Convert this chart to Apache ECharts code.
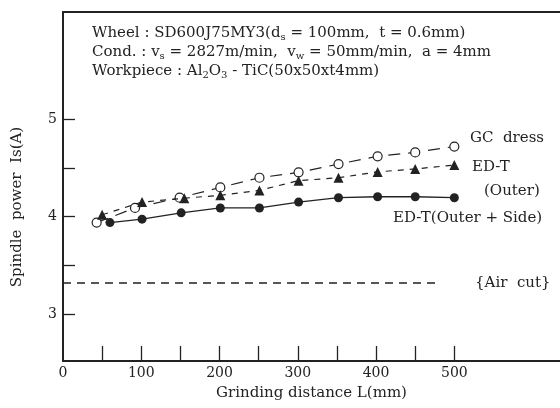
<!DOCTYPE html>
<html>
<head>
<meta charset="utf-8">
<script src="https://cdn.jsdelivr.net/npm/echarts@6/dist/echarts.min.js"></script>
<style>
  html, body { margin: 0; padding: 0; background: #fff; }
  #main { width: 560px; height: 408px; }
</style>
</head>
<body>
<div id="main"></div>
<script>
// grinding distance (mm) and spindle power (A)
var distGC = [43, 92, 149, 201, 251, 301, 352, 402, 450, 500];
var gcDress = [3.94, 4.09, 4.195, 4.30, 4.40, 4.455, 4.54, 4.62, 4.66, 4.72];

var distOuter = [50, 101, 155, 201, 251, 301, 352, 402, 450, 500];
var edtOuter = [4.02, 4.15, 4.19, 4.22, 4.27, 4.37, 4.40, 4.46, 4.49, 4.53];

var distSide = [60, 101, 151, 201, 251, 301, 352, 402, 450, 500];
var edtSide = [3.94, 3.975, 4.04, 4.09, 4.09, 4.15, 4.195, 4.205, 4.205, 4.195];

var distAir = [0, 478];
var airCut = [3.32, 3.32];

var xLabels = [0, 100, 200, 300, 400, 500];
var xTicks = [50, 100, 150, 200, 250, 300, 350, 400, 450, 500];
var yLabels = [3, 4, 5];
var yTicks = [3, 3.5, 4, 4.5, 5];

function pairs(xs, ys) {
  return xs.map(function (x, i) { return [x, ys[i]]; });
}

var FONT = "DejaVu Serif";
var INK = "#222";

var chartDom = document.getElementById("main");
var myChart = echarts.init(chartDom);

// annotation text, anchored at its left-middle point
function txt(x, y, text, size) {
  return {
    type: "text", x: x, y: y, z: 10,
    style: { text: text, fill: INK, font: (size || 15) + "px '" + FONT + "'", verticalAlign: "middle" }
  };
}

var subRich = {
  sub: { fontSize: 10, fontFamily: FONT, fill: INK, padding: [7, 0, 0, 0] }
};

var option = {
  animation: false,
  grid: { left: 63, right: 0, top: 12, bottom: 47 },
  xAxis: [
    {
      type: "value",
      min: 0,
      max: 635,
      splitLine: { show: false },
      axisLine: { lineStyle: { color: INK, width: 2 } },
      axisTick: { inside: true, length: 15, customValues: xTicks, lineStyle: { color: INK, width: 1.3 } },
      axisLabel: { customValues: xLabels, color: INK, fontFamily: FONT, fontSize: 14, margin: 5 },
      name: "Grinding distance L(mm)",
      nameLocation: "middle",
      nameGap: 25,
      nameTextStyle: { color: INK, fontFamily: FONT, fontSize: 15 }
    },
    {
      type: "value",
      position: "top",
      min: 0,
      max: 635,
      splitLine: { show: false },
      axisLine: { show: true, lineStyle: { color: INK, width: 2 } },
      axisTick: { show: false },
      axisLabel: { show: false }
    }
  ],
  yAxis: {
    type: "value",
    min: 2.52,
    max: 6.1,
    splitLine: { show: false },
    axisLine: { show: true, lineStyle: { color: INK, width: 2 } },
    axisTick: { inside: true, length: 12, customValues: yTicks, lineStyle: { color: INK, width: 1.3 } },
    axisLabel: { customValues: yLabels, color: INK, fontFamily: FONT, fontSize: 14, margin: 6 }
  },
  graphic: [
    {
      type: "text",
      x: 92,
      y: 24,
      z: 10,
      style: {
        text: "Wheel : SD600J75MY3(d{sub|s} = 100mm,  t = 0.6mm)\nCond. : v{sub|s} = 2827m/min,  v{sub|w} = 50mm/min,  a = 4mm\nWorkpiece : Al{sub|2}O{sub|3} - TiC(50x50xt4mm)",
        fill: INK,
        font: "15px '" + FONT + "'",
        lineHeight: 19,
        rich: subRich
      }
    },
    txt(470, 138, "GC  dress"),
    txt(472, 167, "ED-T"),
    txt(484, 191, "(Outer)"),
    txt(393, 218, "ED-T(Outer + Side)"),
    txt(475, 283, "{Air  cut}"),
    {
      type: "text",
      x: 17,
      y: 207,
      rotation: Math.PI / 2,
      z: 10,
      style: {
        text: "Spindle  power  Is(A)",
        fill: INK,
        font: "15px '" + FONT + "'",
        align: "center",
        verticalAlign: "middle"
      }
    }
  ],
  series: [
    {
      name: "GC dress",
      type: "line",
      data: pairs(distGC, gcDress),
      symbol: "circle",
      symbolSize: 9,
      itemStyle: { color: "#fff", borderColor: INK, borderWidth: 1.2 },
      lineStyle: { color: INK, width: 1.2, type: [12, 8] },
      z: 3
    },
    {
      name: "ED-T (Outer)",
      type: "line",
      data: pairs(distOuter, edtOuter),
      symbol: "triangle",
      symbolSize: 10,
      itemStyle: { color: INK },
      lineStyle: { color: INK, width: 1.2, type: [6, 6] },
      z: 4
    },
    {
      name: "ED-T (Outer+Side)",
      type: "line",
      data: pairs(distSide, edtSide),
      symbol: "circle",
      symbolSize: 9,
      itemStyle: { color: INK },
      lineStyle: { color: INK, width: 1.3 },
      z: 5
    },
    {
      name: "Air cut",
      type: "line",
      data: pairs(distAir, airCut),
      symbol: "none",
      lineStyle: { color: INK, width: 1.6, type: [8, 6] }
    }
  ]
};

option && myChart.setOption(option);
</script>
</body>
</html>
